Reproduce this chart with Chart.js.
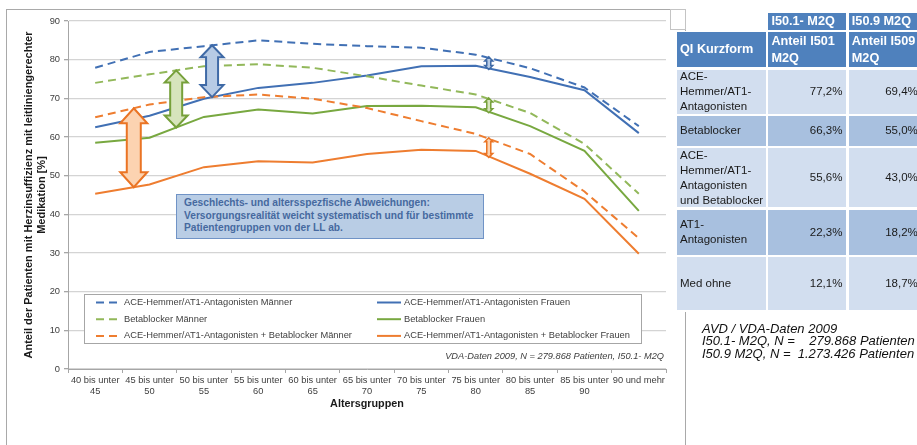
<!DOCTYPE html>
<html lang="de">
<head>
<meta charset="utf-8">
<title>Leitliniengerechte Medikation nach Altersgruppen</title>
<script src="https://cdn.jsdelivr.net/npm/chart.js@4.4.1/dist/chart.umd.min.js"></script>
<style>
  html, body { margin: 0; padding: 0; background: #fff; }
  body { width: 917px; height: 445px; overflow: hidden; position: relative;
         font-family: "Liberation Sans", Arial, sans-serif; }
  #frame { position: absolute; left: 6px; top: 9px; width: 680px; height: 500px;
           border: 1px solid #a9a9a9; box-sizing: border-box; }
  #chart { position: absolute; left: 0; top: 0; }
  #callout { position: absolute; left: 176px; top: 194px; width: 308px; height: 45px;
             box-sizing: border-box; background: #b9cde5; border: 1px solid #7093c6;
             color: #46699f; font-weight: bold; font-size: 10.2px; line-height: 12.5px;
             padding: 2px 0 0 7px; white-space: nowrap; }
  #source { position: absolute; right: 253px; top: 351px; font-style: italic;
            font-size: 9.25px; line-height: 11px; color: #404040; white-space: nowrap; }
  #tableBack { position: absolute; left: 675px; top: 31px; width: 250px; height: 281px; background: #fff; }
  .cell { position: absolute; box-sizing: border-box; display: flex; align-items: center;
          font-size: 11.5px; line-height: 15px; color: #1a1a1a; }
  .cell span { display: block; }
  .head { background: #4f81bd; color: #fff; font-weight: bold; font-size: 12.7px; line-height: 17px; }
  .band1 { background: #d2deef; }
  .band2 { background: #a8c0df; }
  .num { justify-content: flex-end; padding-right: 4px; }
  .txt { padding-left: 3px; padding-right: 1px; }
  #corner { position: absolute; left: 670px; top: 9px; width: 16px; height: 21px;
            box-sizing: border-box; border: 1px solid #c4c4c4; }
  #notes { position: absolute; left: 702px; top: 323px; font-style: italic; font-size: 13px;
           line-height: 12.3px; color: #111; white-space: pre; }
</style>
</head>
<body>
<div id="frame"></div>
<canvas id="chart" width="680" height="445"></canvas>
<div id="callout"></div>
<div id="source"></div>
<div id="corner"></div>
<div id="tableBack"></div>
<div id="table"></div>
<div id="notes"></div>
<script>
// Age groups on the x axis (two-line tick labels)
const ageGroups = [
  ["40 bis unter", "45"], ["45 bis unter", "50"], ["50 bis unter", "55"],
  ["55 bis unter", "60"], ["60 bis unter", "65"], ["65 bis unter", "70"],
  ["70 bis unter", "75"], ["75 bis unter", "80"], ["80 bis unter", "85"],
  ["85 bis unter", "90"], "90 und mehr"
];

// Share of patients with guideline-conform medication [%]
const aceMen      = [77.9, 82.0, 83.5, 85.0, 84.1, 83.5, 83.1, 81.3, 77.8, 72.8, 62.8];
const betaMen     = [74.0, 76.2, 78.3, 78.8, 77.9, 75.7, 73.3, 71.0, 66.2, 58.2, 45.3];
const comboMen    = [65.1, 68.4, 70.3, 71.0, 69.9, 67.5, 64.1, 60.8, 55.6, 45.9, 33.8];
const aceWomen    = [62.5, 65.5, 69.9, 72.7, 74.0, 75.9, 78.3, 78.4, 75.5, 72.1, 61.0];
const betaWomen   = [58.5, 59.8, 65.2, 67.1, 66.1, 68.0, 68.1, 67.7, 62.8, 56.4, 40.9];
const comboWomen  = [45.3, 47.7, 52.2, 53.7, 53.4, 55.6, 56.7, 56.4, 50.5, 44.0, 29.8];

const seriesNames = [
  "ACE-Hemmer/AT1-Antagonisten Männer",
  "Betablocker Männer",
  "ACE-Hemmer/AT1-Antagonisten + Betablocker Männer",
  "ACE-Hemmer/AT1-Antagonisten Frauen",
  "Betablocker Frauen",
  "ACE-Hemmer/AT1-Antagonisten + Betablocker Frauen"
];

// Gap arrows between the men's and women's curve of one therapy (category index where drawn)
const gapArrows = [
  { upper: 2, lower: 5, at: 0.71, size: "large" },
  { upper: 1, lower: 4, at: 1.49, size: "large" },
  { upper: 0, lower: 3, at: 2.15, size: "large" },
  { upper: 0, lower: 3, at: 7.24, size: "small" },
  { upper: 1, lower: 4, at: 7.24, size: "small" },
  { upper: 2, lower: 5, at: 7.24, size: "small" }
];

const calloutLines = [
  "Geschlechts- und altersspezfische Abweichungen:",
  "Versorgungsrealität weicht systematisch und für bestimmte",
  "Patientengruppen von der LL ab."
];
const sourceLine = "VDA-Daten 2009, N = 279.868 Patienten, I50.1- M2Q";

// Summary table
const tableGroups = ["I50.1- M2Q", "I50.9 M2Q"];
const tableHeads  = ["QI Kurzform", "Anteil I501 M2Q", "Anteil I509 M2Q"];
const measures    = ["ACE-Hemmer/AT1-Antagonisten", "Betablocker",
                     "ACE-Hemmer/AT1-Antagonisten und Betablocker", "AT1-Antagonisten", "Med ohne"];
const shareI501   = [77.2, 66.3, 55.6, 22.3, 12.1];
const shareI509   = [69.4, 55.0, 43.0, 18.2, 18.7];
const noteLines   = ["AVD / VDA-Daten 2009",
                     "I50.1- M2Q, N =    279.868 Patienten",
                     "I50.9 M2Q, N =  1.273.426 Patienten"];

// ---------- styles ----------
const BLUE = "#4170b4", GREEN_M = "#92b85a", GREEN_F = "#78a840", ORANGE = "#ee7d30";
const lineColors = [BLUE, GREEN_M, ORANGE, BLUE, GREEN_F, ORANGE];
const arrowStyles = [
  { stroke: "#3f6aa6", fill: "#b7cbe5" },
  { stroke: "#76a03a", fill: "#d6e4bc" },
  { stroke: "#ea7424", fill: "#fcd3b1" }
];
const seriesValues = [aceMen, betaMen, comboMen, aceWomen, betaWomen, comboWomen];

Chart.defaults.font.family = "'Liberation Sans', Arial, sans-serif";

const datasets = seriesValues.map((vals, i) => ({
  label: seriesNames[i],
  data: vals,
  borderColor: lineColors[i],
  backgroundColor: lineColors[i],
  borderWidth: 2,
  borderDash: i < 3 ? [8, 5] : [],
  pointRadius: 0,
  tension: 0,
  fill: false
}));

function drawDoubleArrow(ctx, cx, yTop, yBot, headW, shaftW, headL, style, lw) {
  ctx.save();
  ctx.beginPath();
  ctx.moveTo(cx, yTop);
  ctx.lineTo(cx + headW / 2, yTop + headL);
  ctx.lineTo(cx + shaftW / 2, yTop + headL);
  ctx.lineTo(cx + shaftW / 2, yBot - headL);
  ctx.lineTo(cx + headW / 2, yBot - headL);
  ctx.lineTo(cx, yBot);
  ctx.lineTo(cx - headW / 2, yBot - headL);
  ctx.lineTo(cx - shaftW / 2, yBot - headL);
  ctx.lineTo(cx - shaftW / 2, yTop + headL);
  ctx.lineTo(cx - headW / 2, yTop + headL);
  ctx.closePath();
  ctx.fillStyle = style.fill;
  ctx.fill();
  ctx.lineWidth = lw;
  ctx.lineJoin = "miter";
  ctx.strokeStyle = style.stroke;
  ctx.stroke();
  ctx.restore();
}

function valueAt(arr, t) {
  const i = Math.min(Math.floor(t), arr.length - 2);
  return arr[i] + (arr[i + 1] - arr[i]) * (t - i);
}

const annotationPlugin = {
  id: "annotations",
  afterDatasetsDraw(chart) {
    const ctx = chart.ctx;
    const xs = chart.scales.x, ys = chart.scales.y;
    const sets = chart.data.datasets;

    // gap arrows
    gapArrows.forEach(a => {
      const cx = xs.getPixelForValue(a.at);
      const yTop = ys.getPixelForValue(valueAt(sets[a.upper].data, a.at));
      const yBot = ys.getPixelForValue(valueAt(sets[a.lower].data, a.at));
      const style = arrowStyles[a.upper];
      if (a.size === "large") {
        const big = a.upper === 2;
        drawDoubleArrow(ctx, cx, yTop, yBot, big ? 27 : 23, big ? 14 : 12, big ? 15 : 12, style, 2);
      } else {
        drawDoubleArrow(ctx, cx, yTop - 1, yBot + 1, 8, 4, 4, style, 1.5);
      }
    });

    // legend box (two columns: men dashed, women solid)
    const L = 84, T = 294, R = 642, B = 344;
    ctx.save();
    ctx.fillStyle = "#fff";
    ctx.fillRect(L, T, R - L, B - T);
    ctx.strokeStyle = "#a6a6a6";
    ctx.lineWidth = 1;
    ctx.strokeRect(L + 0.5, T + 0.5, R - L - 1, B - T - 1);
    ctx.font = "9.3px 'Liberation Sans', Arial, sans-serif";
    ctx.textBaseline = "middle";
    ctx.textAlign = "left";
    sets.forEach((ds, i) => {
      const col = Math.floor(i / 3), row = i % 3;
      const y = 302.5 + row * 16.7;
      const x0 = col === 0 ? 96 : 377, x1 = col === 0 ? 118 : 401;
      const tx = col === 0 ? 124 : 404;
      ctx.beginPath();
      ctx.setLineDash(ds.borderDash);
      ctx.strokeStyle = ds.borderColor;
      ctx.lineWidth = 2;
      ctx.moveTo(x0, y);
      ctx.lineTo(x1, y);
      ctx.stroke();
      ctx.setLineDash([]);
      ctx.fillStyle = "#404040";
      ctx.fillText(ds.label, tx, y);
    });
    ctx.restore();
  }
};

new Chart(document.getElementById("chart").getContext("2d"), {
  type: "line",
  data: { labels: ageGroups, datasets },
  options: {
    responsive: false,
    animation: false,
    layout: { padding: { left: 0, top: 21, right: 14, bottom: 31 } },
    plugins: { legend: { display: false }, tooltip: { enabled: false } },
    scales: {
      x: {
        offset: true,
        grid: { offset: true, drawOnChartArea: false, drawTicks: true, tickLength: 4, color: "#a6a6a6" },
        border: { color: "#a6a6a6" },
        ticks: { font: { size: 9.3 }, color: "#404040", padding: 2, maxRotation: 0, autoSkip: false },
        title: { display: true, text: "Altersgruppen", font: { size: 10.8, weight: "bold" },
                 color: "#1a1a1a", padding: { top: 0, bottom: 3 } },
        afterFit(s) { s.height = 45; }
      },
      y: {
        min: 0, max: 90,
        ticks: { stepSize: 10, font: { size: 9.3 }, color: "#404040", padding: 4 },
        grid: { color: "#d4d4d4", lineWidth: 1.3, tickLength: 4, tickColor: "#a6a6a6" },
        border: { color: "#a6a6a6" },
        title: { display: true,
                 text: ["Anteil der Patienten mit Herzinsuffizienz mit leitliniengerechter", "Medikation [%]"],
                 font: { size: 11, weight: "bold", lineHeight: 1.13 }, color: "#1a1a1a",
                 padding: { top: 23, bottom: 0 } },
        afterFit(s) { s.width = 68; }
      }
    }
  },
  plugins: [annotationPlugin]
});

// callout and source text
document.getElementById("callout").innerHTML = calloutLines.join("<br>");
document.getElementById("source").textContent = sourceLine;

// summary table
const colW = [89, 78, 73], rowH = [17, 35, 44, 30, 59, 45, 53], gap = 2.4;
const ox = 677, oy = 12.7;
const tbl = document.getElementById("table");
const fmt = v => v.toFixed(1).replace(".", ",") + "%";
function cell(r, c, text, cls) {
  let x = ox, y = oy;
  for (let i = 0; i < c; i++) x += colW[i] + gap;
  for (let j = 0; j < r; j++) y += rowH[j] + gap;
  const d = document.createElement("div");
  d.className = "cell " + cls;
  d.style.left = x + "px";
  d.style.top = y + "px";
  d.style.width = colW[c] + "px";
  d.style.height = rowH[r] + "px";
  const s = document.createElement("span");
  s.textContent = text;
  d.appendChild(s);
  tbl.appendChild(d);
}
tableGroups.forEach((g, i) => cell(0, i + 1, g, "head txt"));
tableHeads.forEach((h, i) => cell(1, i, h, "head txt"));
measures.forEach((m, k) => {
  const band = k % 2 === 0 ? "band1" : "band2";
  cell(k + 2, 0, m, band + " txt");
  cell(k + 2, 1, fmt(shareI501[k]), band + " num");
  cell(k + 2, 2, fmt(shareI509[k]), band + " num");
});
document.getElementById("notes").textContent = noteLines.join("\n");
</script>
</body>
</html>
